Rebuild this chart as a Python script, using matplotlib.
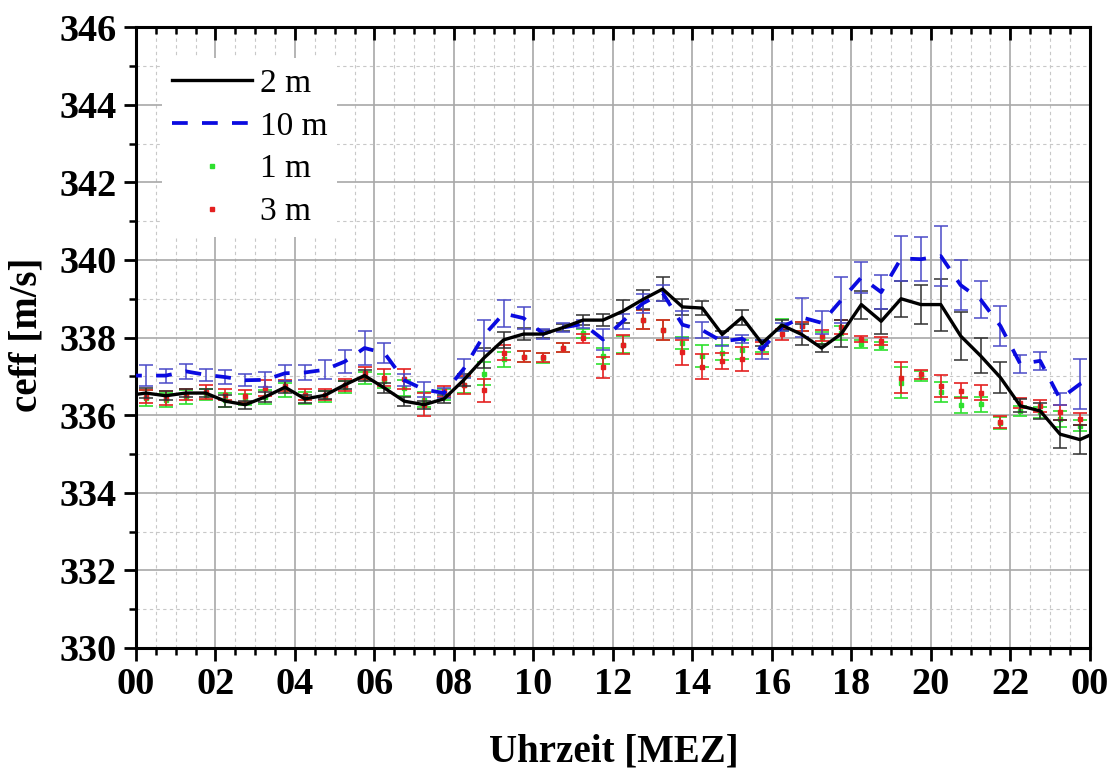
import matplotlib
matplotlib.use("Agg")
import matplotlib.pyplot as plt
from matplotlib.lines import Line2D
from matplotlib.ticker import MultipleLocator

plt.rcParams['font.family'] = ['Liberation Serif', 'DejaVu Serif']

# time of day [h]
hours = [0.25, 0.75, 1.25, 1.75, 2.25, 2.75, 3.25, 3.75, 4.25, 4.75, 5.25, 5.75,
         6.25, 6.75, 7.25, 7.75, 8.25, 8.75, 9.25, 9.75, 10.25, 10.75, 11.25, 11.75,
         12.25, 12.75, 13.25, 13.75, 14.25, 14.75, 15.25, 15.75, 16.25, 16.75, 17.25, 17.75,
         18.25, 18.75, 19.25, 19.75, 20.25, 20.75, 21.25, 21.75, 22.25, 22.75, 23.25, 23.75]

# 2 m (black line)
c2 = [336.57, 336.50, 336.57, 336.57, 336.36, 336.27, 336.47, 336.72, 336.42, 336.51, 336.78, 337.02,
      336.70, 336.36, 336.27, 336.42, 336.91, 337.47, 337.94, 338.09, 338.09, 338.26, 338.45, 338.45,
      338.68, 338.98, 339.25, 338.79, 338.76, 338.08, 338.52, 337.85, 338.32, 338.08, 337.73, 338.10,
      338.85, 338.42, 339.00, 338.85, 338.85, 338.04, 337.53, 336.97, 336.24, 336.11, 335.51, 335.37]
e2 = [0.12, 0.12, 0.10, 0.10, 0.15, 0.10, 0.12, 0.15, 0.10, 0.10, 0.10, 0.15,
      0.12, 0.12, 0.10, 0.10, 0.15, 0.25, 0.20, 0.15, 0.10, 0.10, 0.12, 0.15,
      0.30, 0.25, 0.30, 0.20, 0.17, 0.10, 0.20, 0.08, 0.12, 0.28, 0.10, 0.35,
      0.36, 0.32, 0.47, 0.51, 0.67, 0.62, 0.45, 0.39, 0.17, 0.20, 0.36, 0.38]

# 10 m (blue dashed line)
c10 = [337.02, 337.02, 337.13, 337.04, 336.98, 336.90, 336.91, 337.08, 337.10, 337.17, 337.38, 337.73,
       337.60, 336.90, 336.66, 336.57, 337.20, 338.05, 338.62, 338.50, 338.10, 338.26, 338.35, 337.95,
       338.42, 338.88, 339.15, 338.33, 338.19, 337.90, 337.97, 337.70, 338.27, 338.52, 338.38, 338.97,
       339.55, 339.17, 340.04, 340.02, 340.10, 339.35, 338.98, 338.30, 337.32, 337.40, 336.42, 336.80]
e10 = [0.26, 0.18, 0.20, 0.15, 0.18, 0.15, 0.19, 0.20, 0.20, 0.25, 0.29, 0.45,
       0.26, 0.15, 0.19, 0.12, 0.25, 0.40, 0.35, 0.28, 0.13, 0.12, 0.10, 0.28,
       0.20, 0.25, 0.20, 0.35, 0.20, 0.12, 0.10, 0.25, 0.10, 0.50, 0.30, 0.60,
       0.39, 0.43, 0.59, 0.57, 0.77, 0.65, 0.48, 0.51, 0.24, 0.24, 0.15, 0.64]

# line values just outside the plotted day (continue to the frame)
edge_hours = [-0.25, 24.25]
c2_edge = [336.50, 335.60]
c10_edge = [337.02, 337.05]

# 1 m (green points)
c1 = [336.44, 336.40, 336.47, 336.53, 336.40, 336.40, 336.48, 336.66, 336.44, 336.48, 336.72, 336.96,
      336.87, 336.70, 336.40, 336.53, 336.78, 337.07, 337.44, 337.51, 337.47, 337.74, 338.11, 337.52,
      337.82, 338.46, 338.20, 337.86, 337.52, 337.61, 337.69, 337.78, 338.33, 338.29, 337.99, 338.12,
      337.83, 337.78, 336.84, 337.01, 336.60, 336.26, 336.28, 335.80, 336.11, 336.07, 335.90, 335.73]
e1 = [0.20, 0.18, 0.18, 0.15, 0.18, 0.15, 0.18, 0.18, 0.15, 0.15, 0.15, 0.15,
      0.18, 0.20, 0.20, 0.15, 0.20, 0.29, 0.20, 0.15, 0.12, 0.12, 0.12, 0.21,
      0.22, 0.25, 0.26, 0.15, 0.29, 0.20, 0.25, 0.15, 0.15, 0.12, 0.15, 0.18,
      0.10, 0.10, 0.40, 0.12, 0.26, 0.20, 0.20, 0.15, 0.13, 0.15, 0.20, 0.15]

# 3 m (red points)
c3 = [336.48, 336.44, 336.53, 336.60, 336.53, 336.50, 336.70, 336.76, 336.53, 336.53, 336.78, 337.08,
      336.96, 336.93, 336.27, 336.61, 336.78, 336.64, 337.61, 337.51, 337.49, 337.74, 337.98, 337.23,
      337.82, 338.46, 338.20, 337.62, 337.25, 337.39, 337.45, 337.73, 338.08, 338.29, 338.05, 338.27,
      337.97, 337.91, 336.97, 337.05, 336.76, 336.63, 336.58, 335.83, 336.31, 336.24, 336.07, 335.90]
e3 = [0.17, 0.18, 0.15, 0.18, 0.15, 0.15, 0.20, 0.15, 0.15, 0.15, 0.15, 0.15,
      0.22, 0.26, 0.30, 0.15, 0.23, 0.30, 0.20, 0.15, 0.12, 0.12, 0.12, 0.28,
      0.24, 0.25, 0.26, 0.32, 0.32, 0.20, 0.31, 0.15, 0.15, 0.12, 0.15, 0.18,
      0.08, 0.10, 0.40, 0.12, 0.28, 0.20, 0.20, 0.15, 0.13, 0.15, 0.20, 0.15]

xticks = [0, 2, 4, 6, 8, 10, 12, 14, 16, 18, 20, 22, 24]
xticklabels = ["00", "02", "04", "06", "08", "10", "12", "14", "16", "18", "20", "22", "00"]
yticks = [330, 332, 334, 336, 338, 340, 342, 344, 346]

fig = plt.figure(figsize=(11.13, 7.76), dpi=100)
ax = fig.add_axes([0.1222, 0.165, 0.857, 0.800])

GREEN = '#2ee02e'
RED = '#e42020'
BLUE = '#0a0ae0'
BLUE_ERR = '#4a4ac8'

ax.errorbar(hours, c1, yerr=e1, fmt='s', ms=3.5, color=GREEN, ecolor=GREEN,
            elinewidth=1.2, capsize=5, capthick=1.2, zorder=3)
ax.errorbar(hours, c3, yerr=e3, fmt='s', ms=3.5, color=RED, ecolor=RED,
            elinewidth=1.2, capsize=5, capthick=1.2, zorder=3.1)
ax.errorbar(hours, c2, yerr=e2, fmt='none', ecolor='#303030',
            elinewidth=1.1, capsize=5, capthick=1.1, zorder=3.2)
ax.errorbar(hours, c10, yerr=e10, fmt='none', ecolor=BLUE_ERR,
            elinewidth=1.1, capsize=5, capthick=1.1, zorder=3.3)

x_line = [edge_hours[0]] + hours + [edge_hours[1]]
y2_line = [c2_edge[0]] + c2 + [c2_edge[1]]
y10_line = [c10_edge[0]] + c10 + [c10_edge[1]]
ax.plot(x_line, y2_line, color='black', lw=2.4, zorder=5)
ax.plot(x_line, y10_line, color=BLUE, lw=2.7, dashes=(4.2, 3.8), zorder=4)

ax.set_xlim(0, 24)
ax.set_ylim(330, 346)
ax.set_xticks(xticks)
ax.set_xticklabels(xticklabels)
ax.set_yticks(yticks)
ax.xaxis.set_minor_locator(MultipleLocator(0.5))
ax.yaxis.set_minor_locator(MultipleLocator(1))

ax.grid(which='major', color='#a8a8a8', lw=1.2, zorder=0)
ax.grid(which='minor', color='#c8c8c8', lw=0.8, linestyle=(0, (3, 3)), zorder=0)
ax.set_axisbelow(True)

for s in ax.spines.values():
    s.set_linewidth(2.2)

ax.tick_params(axis='both', which='major', direction='out', length=9, width=2,
               labelsize=27.5, pad=5)
ax.tick_params(axis='both', which='minor', direction='out', length=5, width=1.8)
ax.tick_params(axis='x', which='both', top=True)
for lbl in ax.get_xticklabels() + ax.get_yticklabels():
    lbl.set_fontweight('bold')

# top ticks point inward
for t in ax.xaxis.get_major_ticks() + ax.xaxis.get_minor_ticks():
    t.tick2line.set_marker(3)  # TICKDOWN

fig.text(27 / 1113, 1 - 335 / 776, "ceff [m/s]", rotation=90, ha='center', va='center',
         fontsize=28, fontweight='bold')
fig.text(614 / 1113, 1 - 752 / 776, "Uhrzeit [MEZ]", ha='center', va='center',
         fontsize=28, fontweight='bold')

handles = [
    Line2D([], [], color='black', lw=2.4),
    Line2D([], [], color=BLUE, lw=2.7, dashes=(4.2, 3.8)),
    Line2D([], [], color=GREEN, marker='s', ms=3.5, ls='none'),
    Line2D([], [], color=RED, marker='s', ms=3.5, ls='none'),
]
leg = ax.legend(handles, ["2 m", "10 m", "1 m", "3 m"], loc='upper left',
                bbox_to_anchor=(0.027, 0.95), borderaxespad=0, fontsize=24,
                frameon=True, framealpha=1, facecolor='white', edgecolor='none',
                handlelength=2.4, handletextpad=0.24, labelspacing=0.37,
                borderpad=0.3, fancybox=False)
leg.set_zorder(10)

fig.savefig("out.png", dpi=100)
